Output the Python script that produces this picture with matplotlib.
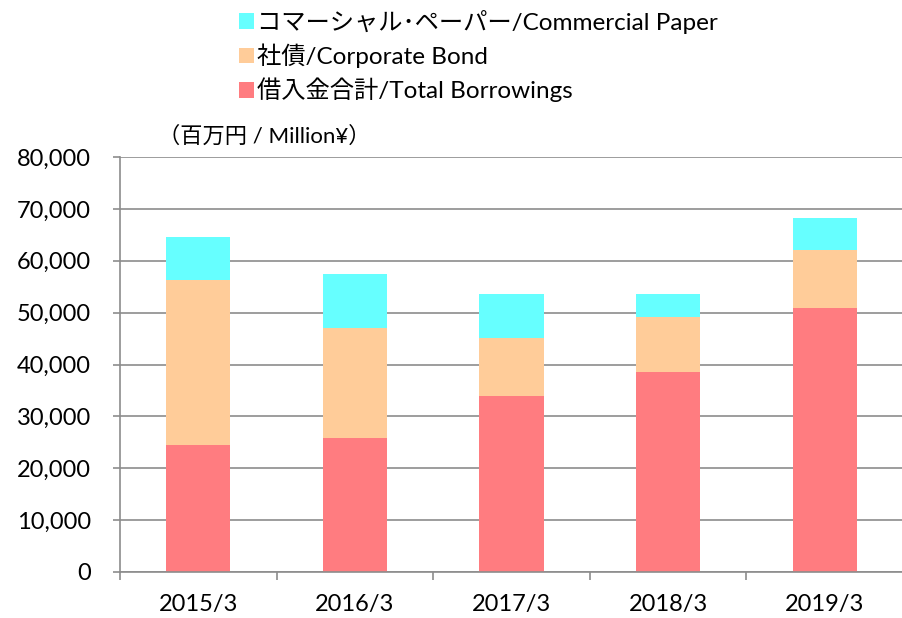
import numpy as np
import matplotlib.pyplot as plt
from matplotlib.patches import Patch

# Data (million yen)
years = ['2015/3', '2016/3', '2017/3', '2018/3', '2019/3']
borrowings = [24400, 25900, 34000, 38500, 50900]
bonds = [31900, 21200, 11200, 10600, 11100]
cp = [8300, 10400, 8300, 4400, 6300]

labels = ['コマーシャル･ペーパー/Commercial Paper', '社債/Corporate Bond', '借入金合計/Total Borrowings']
colors = ['#66FFFF', '#FFCC99', '#FF7C80']

plt.rcParams['font.family'] = ['Lato', 'Noto Sans CJK JP', 'DejaVu Sans']

fig = plt.figure(figsize=(9.03, 6.18), dpi=100)
ax = fig.add_axes([120 / 903, 1 - 572 / 618, (903 - 120) / 903, (572 - 157) / 618])

x = np.arange(len(years))
w = 0.41
b1 = np.array(borrowings)
b2 = b1 + np.array(bonds)
ax.bar(x, borrowings, w, color=colors[2], zorder=3)
ax.bar(x, bonds, w, bottom=b1, color=colors[1], zorder=3)
ax.bar(x, cp, w, bottom=b2, color=colors[0], zorder=3)

grid_c = '#8C8C8C'
ax.set_ylim(0, 80000)
ax.set_xlim(-0.5, 4.5 - 7 / 158)
ax.set_yticks(np.arange(0, 80001, 10000))
ax.set_yticklabels([f'{v:,}' for v in range(0, 80001, 10000)], fontsize=17)
ax.yaxis.grid(True, color=grid_c, linewidth=1.2, zorder=0)

ax.set_xticks(x)
ax.set_xticklabels(years, fontsize=17)
ax.set_xticks(np.arange(-0.5, 5, 1), minor=True)
ax.tick_params(axis='x', which='major', length=0, pad=16)
ax.tick_params(axis='x', which='minor', length=6, color=grid_c, width=1.2)
ax.tick_params(axis='y', length=5, color=grid_c, width=1.2, pad=16)

for s in ['top', 'right']:
    ax.spines[s].set_visible(False)
for s in ['left', 'bottom']:
    ax.spines[s].set_color(grid_c)
    ax.spines[s].set_linewidth(1.2)
    ax.spines[s].set_zorder(4)

fig.text(158 / 903, 1 - 136 / 618, '（百万円 / Million¥）', fontsize=16, va='center', ha='left')

handles = [Patch(facecolor=c, edgecolor='none') for c in colors]
fig.legend(handles, labels, loc='upper left', bbox_to_anchor=(229 / 903, 1.0),
           frameon=False, fontsize=17.5, handlelength=0.62, handleheight=0.62,
           handletextpad=0.12, labelspacing=0.4, borderaxespad=0)

fig.savefig('out.png', dpi=100)
